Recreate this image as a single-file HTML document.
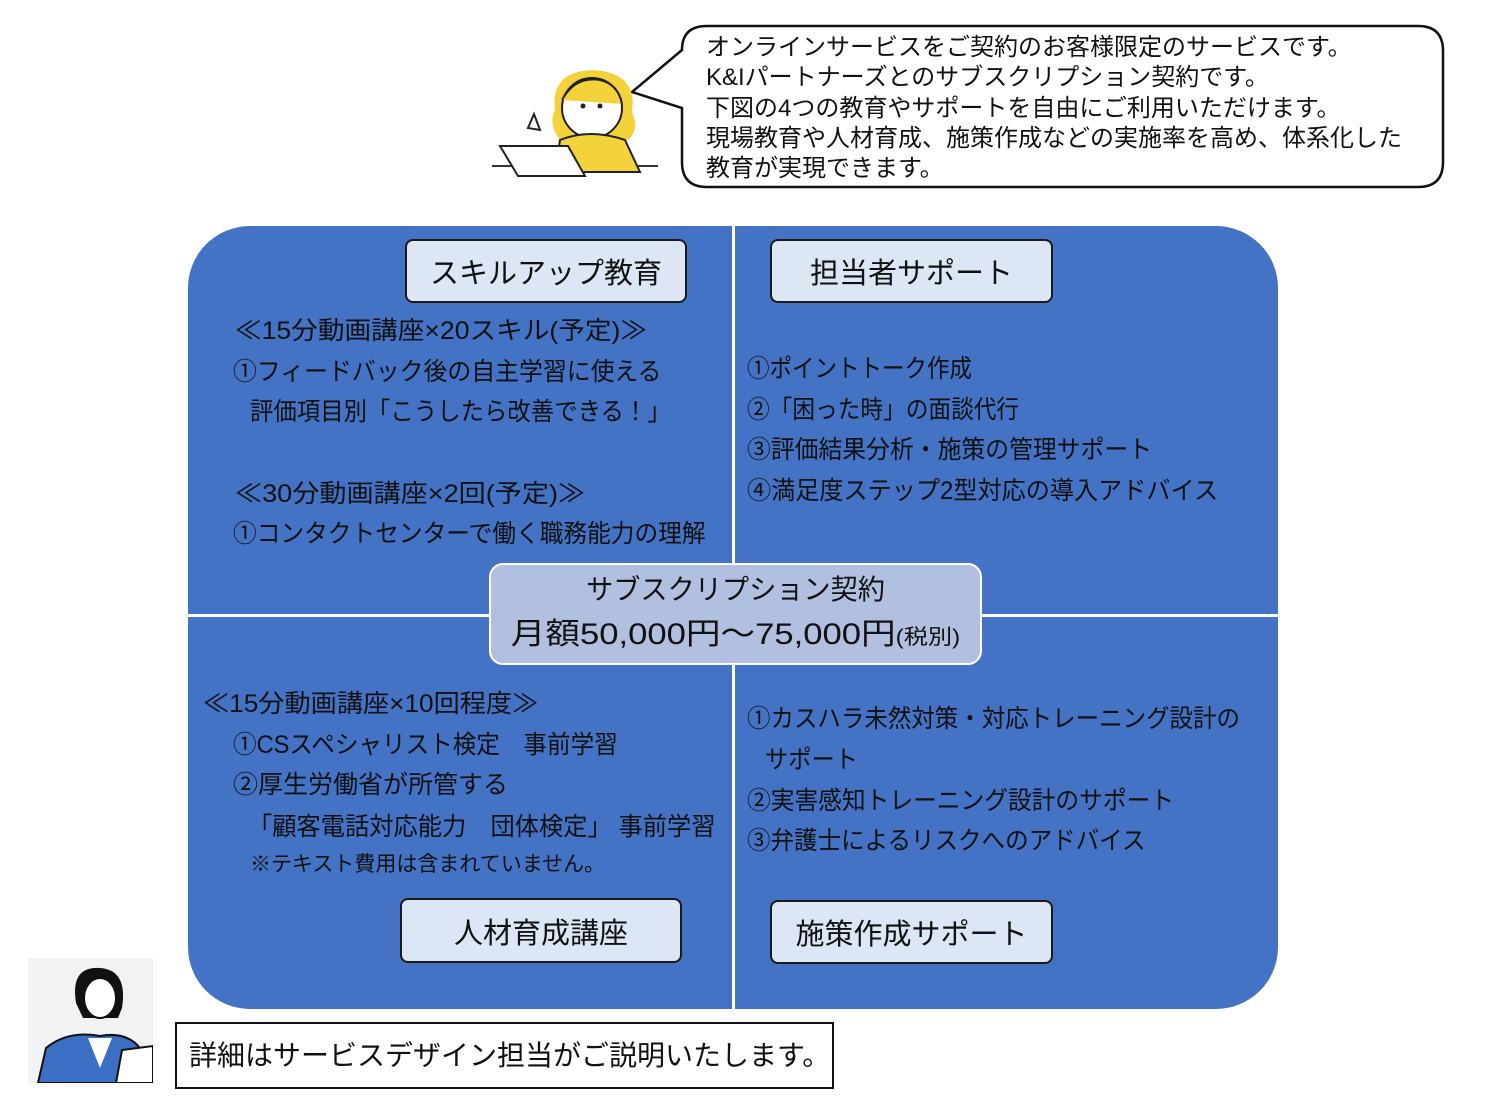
<!DOCTYPE html>
<html><head><meta charset="utf-8"><style>
body{margin:0;width:1500px;height:1097px;background:#fff;position:relative;overflow:hidden;font-family:"Liberation Sans","Noto Sans CJK JP",sans-serif;color:#111}
.a{position:absolute;white-space:nowrap}
.t{position:absolute;white-space:nowrap;font-size:25px;line-height:30px;transform-origin:0 50%}
.lb{position:absolute;background:#DCE6F4;border:2px solid #1a1a1a;border-radius:8px;box-sizing:border-box;font-size:29px;display:flex;align-items:center;justify-content:center}
</style></head><body>
<!-- speech bubble -->
<svg class="a" style="left:0;top:0" width="1500" height="200">
<path d="M707,26 H1418 Q1443,26 1443,51 V162 Q1443,187 1418,187 H707 Q682,187 682,162 V108 L632,92 L682,50 Q682,26 707,26 Z" fill="#fff" stroke="#111" stroke-width="2.5"/>
<line x1="492" y1="166" x2="658" y2="166" stroke="#333" stroke-width="2"/>
<path d="M555,110 Q550,72 592,70 Q638,72 632,112 Q640,130 628,140 L560,140 Q548,125 555,110Z" fill="#F4D23C"/>
<ellipse cx="592" cy="108" rx="30" ry="30" fill="#fff" stroke="#222" stroke-width="2"/>
<path d="M562,100 Q575,76 600,80 Q618,84 622,104" fill="#F4D23C" stroke="#222" stroke-width="2"/>
<circle cx="583" cy="106" r="2.5" fill="#222"/><circle cx="600" cy="106" r="2.5" fill="#222"/>
<path d="M560,140 Q590,128 625,140 L640,172 L555,172 Z" fill="#F4D23C" stroke="#222" stroke-width="2"/>
<path d="M500,146 L568,146 L585,176 L518,176 Z" fill="#fff" stroke="#222" stroke-width="2"/>
<path d="M528,128 L534,114 L540,130 Z" fill="#fff" stroke="#222" stroke-width="2"/>
</svg>
<div class="a" style="left:706px;top:33px;font-size:24px;line-height:30.3px">オンラインサービスをご契約のお客様限定のサービスです。<br>K&amp;Iパートナーズとのサブスクリプション契約です。<br>下図の4つの教育やサポートを自由にご利用いただけます。<br>現場教育や人材育成、施策作成などの実施率を高め、体系化した<br>教育が実現できます。</div>

<div class="a" style="left:188px;top:226px;width:1090px;height:783px;background:#4472C4;border-radius:62px"></div>
<div class="a" style="left:732px;top:226px;width:3px;height:783px;background:#fff"></div>
<div class="a" style="left:188px;top:614px;width:1090px;height:3px;background:#fff"></div>

<div class="lb" style="left:405px;top:239px;width:282px;height:64px">スキルアップ教育</div>
<div class="lb" style="left:770px;top:239px;width:283px;height:64px">担当者サポート</div>
<div class="lb" style="left:400px;top:898px;width:282px;height:65px">人材育成講座</div>
<div class="lb" style="left:770px;top:900px;width:283px;height:64px">施策作成サポート</div>

<div class="t" style="left:235px;top:316px;transform:scaleX(1.065)">≪15分動画講座×20スキル(予定)≫</div>
<div class="t" style="left:233px;top:357px;transform:scaleX(0.955)">①フィードバック後の自主学習に使える</div>
<div class="t" style="left:250px;top:397px;transform:scaleX(0.936)">評価項目別「こうしたら改善できる！」</div>
<div class="t" style="left:235px;top:479px;transform:scaleX(1.084)">≪30分動画講座×2回(予定)≫</div>
<div class="t" style="left:233px;top:519px;transform:scaleX(0.948)">①コンタクトセンターで働く職務能力の理解</div>

<div class="t" style="left:747px;top:354px;transform:scaleX(0.9)">①ポイントトーク作成</div>
<div class="t" style="left:747px;top:395px;transform:scaleX(0.907)">②「困った時」の面談代行</div>
<div class="t" style="left:747px;top:435px;transform:scaleX(0.953)">③評価結果分析・施策の管理サポート</div>
<div class="t" style="left:747px;top:476px;transform:scaleX(0.965)">④満足度ステップ2型対応の導入アドバイス</div>

<div class="t" style="left:203px;top:689px;transform:scaleX(1.047)">≪15分動画講座×10回程度≫</div>
<div class="t" style="left:233px;top:730px;transform:scaleX(0.943)">①CSスペシャリスト検定　事前学習</div>
<div class="t" style="left:233px;top:770px">②厚生労働省が所管する</div>
<div class="t" style="left:248px;top:812px;transform:scaleX(0.97)">「顧客電話対応能力　団体検定」 事前学習</div>
<div class="t" style="left:250px;top:850px;font-size:21px">※テキスト費用は含まれていません。</div>

<div class="t" style="left:747px;top:704px;transform:scaleX(0.939)">①カスハラ未然対策・対応トレーニング設計の</div>
<div class="t" style="left:765px;top:745px;transform:scaleX(0.93)">サポート</div>
<div class="t" style="left:747px;top:786px;transform:scaleX(0.949)">②実害感知トレーニング設計のサポート</div>
<div class="t" style="left:747px;top:826px;transform:scaleX(0.941)">③弁護士によるリスクへのアドバイス</div>

<div class="a" style="left:489px;top:563px;width:493px;height:102px;box-sizing:border-box;background:#B1BFE0;border:2px solid #fff;border-radius:14px;text-align:center">
<div style="font-size:28px;line-height:30px;margin-top:10px;transform:scaleX(0.97)">サブスクリプション契約</div>
<div style="font-size:30px;line-height:32px;margin-top:14px;transform:scaleX(1.154)">月額50,000円～75,000円<span style="font-size:21px">(税別)</span></div>
</div>

<svg class="a" style="left:28px;top:958px" width="125" height="125">
<rect width="125" height="125" fill="#f1f2f4"/>
<path d="M48,45 Q42,8 72,10 Q100,12 94,50 L90,60 L55,60 Z" fill="#111"/>
<ellipse cx="72" cy="40" rx="16" ry="20" fill="#fff" stroke="#111" stroke-width="2"/>
<path d="M10,125 L18,90 Q40,72 72,78 Q105,72 118,100 L122,125 Z" fill="#3A6FC4" stroke="#111" stroke-width="2"/>
<path d="M60,80 L72,110 L84,80 Z" fill="#fff"/>
<path d="M88,125 L94,92 L125,88 L125,125 Z" fill="#fff" stroke="#111" stroke-width="2"/>
</svg>
<div class="a" style="left:175px;top:1022px;width:659px;height:67px;box-sizing:border-box;border:2px solid #111;font-size:28px;line-height:63px;padding-left:12px">詳細はサービスデザイン担当がご説明いたします。</div>
</body></html>
